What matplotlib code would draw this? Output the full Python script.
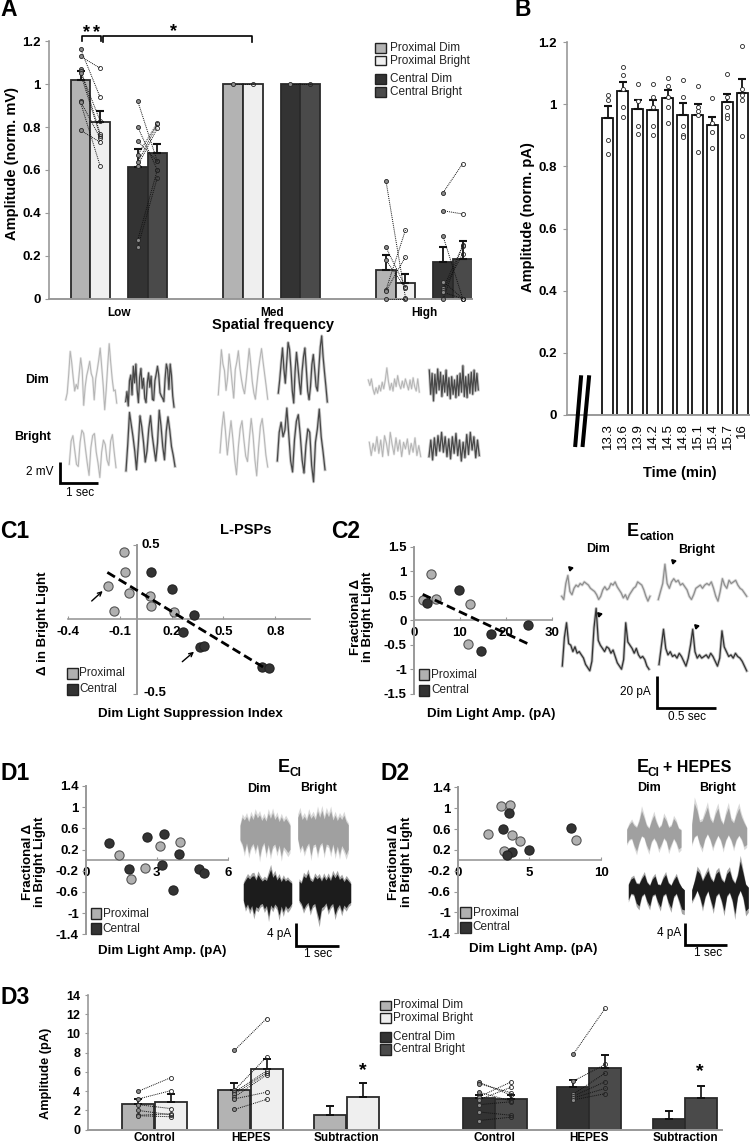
import numpy as np
import matplotlib
matplotlib.use('Agg')
import matplotlib.pyplot as plt
from matplotlib.patches import Rectangle

plt.rcParams['font.family'] = ['Liberation Sans', 'DejaVu Sans']

ANCHO, ALTO = 750, 1145
GRIS_EJE = '#999999'
COL_PD, COL_PB, COL_CD, COL_CB = '#b3b3b3', '#efefef', '#333333', '#4a4a4a'
COL_PROX, COL_CENT = '#b0b0b0', '#333333'

# --- Panel A ---
a_categorias = ['Low', 'Med', 'High']
a_pd = [1.02, 1.0, 0.135]
a_pb = [0.825, 1.0, 0.072]
a_cd = [0.612, 1.0, 0.172]
a_cb = [0.68, 1.0, 0.185]
a_err_pd = [0.04, 0, 0.07]
a_err_pb = [0.05, 0, 0.045]
a_err_cd = [0.085, 0, 0.07]
a_err_cb = [0.04, 0, 0.083]
# pares (tenue, brillante) de cada celula
a_low_prox = [(1.165, 0.94), (1.13, 1.075), (1.07, 0.77), (1.06, 0.83), (1.05, 0.76),
              (0.92, 0.75), (0.915, 0.62), (0.785, 0.73)]
a_low_cent = [(0.92, 0.64), (0.8, 0.6), (0.735, 0.64), (0.67, 0.82), (0.635, 0.815),
              (0.62, 0.795), (0.275, 0.6), (0.24, 0.565)]
a_med_prox = [(1.0, 1.0)]
a_med_cent = [(1.0, 1.0)]
a_high_prox = [(0.55, 0.005), (0.24, 0.055), (0.18, 0.05), (0.04, 0.32), (0.035, 0.195), (0.0, 0.0)]
a_high_cent = [(0.495, 0.63), (0.41, 0.395), (0.29, 0.0), (0.08, 0.0), (0.05, 0.245),
               (0.04, 0.21), (0.03, 0.0), (0.0, 0.25)]

# Trazas panel A (mV)
tr_low_dim_p = [-1.8,-1.2,0.5,2.6,1.6,0.2,-1.0,-0.4,-0.8,0.6,2.0,0.9,-2.3,-0.6,0.4,1.0,1.7,0.6,0.2,-1.8,0.1,0.9,1.8,2.9,1.2,-0.5,-2.7,-0.9,1.3,3.3,1.6,0.1,-1.0,-0.9,-2.1]
tr_low_dim_c = [-1.5,-0.6,-1.9,0.4,0.9,-0.9,1.7,0.2,1.9,-0.4,-1.6,0.7,1.5,-0.3,0.6,-1.2,-1.6,0.2,1.1,-0.2,0.8,-1.3,-1.4,0.4,1.0,1.7,0.9,-0.7,-1.0,-1.2,-1.5,0.6,1.9,1.4,-0.4,1.9,0.9,-1.0,-2.0]
tr_med_dim_p = [-1.8,0.2,2.3,1.0,0.4,-1.4,-0.3,1.9,0.7,-0.8,-2.1,0.5,1.2,2.2,0.6,-0.4,-1.2,-1.7,-0.5,0.9,2.4,1.0,-0.6,-1.6,-2.2,-0.8,0.5,1.5,2.4,1.2,0.1,-1.0,-2.2]
tr_med_dim_c = [-1.8,-0.6,0.9,2.3,0.4,-0.9,1.0,2.8,2.2,0.5,-1.6,-2.7,0.2,1.9,0.6,-0.8,-1.9,0.2,1.5,2.3,0.4,-1.6,-2.4,-1.2,0.8,1.7,0.3,-1.2,-1.6,0.5,2.4,3.4,1.5,0.1,-1.2,-2.6]
tr_high_dim_p = [0.3,-0.2,0.4,-0.5,-1.0,-0.4,-0.9,-0.2,-0.7,0.1,-0.5,0.3,1.4,0.2,-0.6,0.0,-0.7,0.4,-0.3,0.7,-0.1,-0.5,0.2,-0.4,0.4,-0.1,-0.6,0.3,-0.5,0.5,-0.3,-0.7,0.4,-0.8]
tr_high_dim_c = [1.2,-1.0,0.9,-1.6,0.8,-0.9,1.3,-0.6,1.0,-1.2,0.7,-0.8,1.2,-1.1,0.5,-1.4,0.6,-1.0,0.3,-1.3,0.7,-1.1,0.9,-0.8,1.6,-1.2,0.6,-1.3,0.8,-0.9,1.0,-1.0,1.2,-0.7,0.9,-0.6]
tr_low_bri_p = [-1.6,0.5,1.0,-0.3,-1.6,-1.8,0.4,1.5,1.2,-0.2,-1.5,-2.6,-0.1,1.0,1.2,-0.5,-1.5,-2.8,-0.5,0.6,0.2,-1.2,-1.7,0.5,1.1,-0.5,-1.9]
tr_low_bri_c = [-2.8,-0.4,2.5,1.4,0.3,-1.0,-2.7,-0.5,2.2,1.2,-0.2,-2.0,-1.0,1.0,2.2,0.4,-0.8,-1.9,-0.3,2.7,1.3,-0.6,-1.8,0.8,2.1,0.9,-0.6,-1.4,-2.4]
tr_med_bri_p = [-1.0,1.2,2.7,0.9,-1.2,0.4,1.9,0.3,-1.7,-3.0,-0.5,1.2,1.9,0.2,-1.3,-1.8,0.3,2.1,0.6,-1.6,-3.1,-0.6,1.4,2.1,0.6,-1.2,-2.3]
tr_med_bri_c = [-1.6,1.0,1.9,0.6,1.2,3.2,0.8,-1.6,-2.6,0.3,2.0,2.6,0.8,-1.5,-2.7,-0.2,1.3,1.0,-2.0,-3.5,0.1,1.3,3.1,0.6,-0.8,-2.4]
tr_high_bri_p = [0.4,-0.8,0.3,-0.4,0.9,-0.6,0.6,-0.9,1.0,0.3,-0.8,1.3,0.2,-0.7,0.8,-0.4,0.6,-0.9,0.4,-0.2,0.7,-0.7,0.3,-0.5,0.8,-0.8,0.1,-0.9]
tr_high_bri_c = [-0.9,0.6,-1.2,0.8,-0.8,1.0,-0.4,1.3,-0.5,0.9,-0.9,0.7,-1.1,0.9,-0.6,1.2,-0.8,0.6,-1.3,0.4,-1.0,1.1,-0.7,1.3,-0.3,0.9,-1.0,0.6,-0.8]

# --- Panel B ---
b_tiempos = ['13.3', '13.6', '13.9', '14.2', '14.5', '14.8', '15.1', '15.4', '15.7', '16']
b_medias = [0.955, 1.043, 0.985, 0.983, 1.02, 0.967, 0.966, 0.934, 1.008, 1.036]
b_err = [0.04, 0.03, 0.03, 0.03, 0.025, 0.037, 0.035, 0.025, 0.025, 0.047]
b_puntos = [[1.03, 1.015, 0.885, 0.84],
            [1.12, 1.095, 1.05, 0.99, 0.96],
            [1.065, 1.01, 0.93, 0.905],
            [1.065, 1.025, 0.99, 0.93, 0.9],
            [1.085, 1.06, 1.025, 0.99, 0.94],
            [1.08, 1.025, 0.93, 0.9, 0.895],
            [1.06, 0.99, 0.98, 0.965, 0.845],
            [1.02, 0.94, 0.91, 0.86],
            [1.098, 1.025, 0.99, 0.965, 0.955],
            [1.187, 1.05, 1.03, 1.015, 0.897]]

# --- Panel C1 ---
c1_px = [-0.077, -0.069, -0.169, -0.048, 0.077, 0.081, -0.131, 0.215]
c1_py = [0.455, 0.316, 0.226, 0.179, 0.155, 0.092, 0.058, 0.052]
c1_cx = [0.081, 0.2, 0.331, 0.267, 0.363, 0.387, 0.723, 0.762]
c1_cy = [0.318, 0.206, 0.027, -0.083, -0.186, -0.177, -0.321, -0.327]
c1_tx = [-0.171, 0.748]
c1_ty = [0.316, -0.334]

# --- Panel C2 ---
c2_px = [3.7, 1.96, 4.8, 12.2, 11.9]
c2_py = [0.95, 0.42, 0.43, 0.33, -0.48]
c2_cx = [2.9, 9.86, 16.9, 14.6, 24.9]
c2_cy = [0.35, 0.62, -0.28, -0.62, -0.1]
c2_tx = [1.96, 24.9]
c2_ty = [0.53, -0.48]
# trazas (pA)
c2_dim_p = [-6,-8,2,7,-3,-5,-1,1,0,2,1,3,2,1,-1,-2,-3,-5,-8,-6,-2,0,-2,-1,2,1,3,0,-2,-4,-7,-5,-8,-5,-3,-1,0,3,2,1,-2,-6,-9,-6]
c2_bri_p = [-8,-3,2,14,2,-1,3,5,3,4,1,2,0,-2,-6,-8,-5,-1,0,1,-1,1,2,1,3,-1,-6,-9,-3,5,1,-1,4,2,3,4,1,-1,-2,-4,-6]
c2_dim_c = [-10,8,17,4,3,-1,2,-2,-1,-3,-5,-9,-11,-13,-7,14,26,6,3,1,-1,2,1,-2,0,-4,-8,-10,-12,-6,17,5,3,1,-2,1,-3,-5,-4,-6,-10,-12]
c2_bri_c = [-7,4,15,3,-1,1,-2,-1,-3,0,-2,-5,-8,-3,5,15,1,-3,-1,-3,-2,-1,-3,0,-2,-5,-8,-3,14,4,1,-2,-1,-3,0,-2,-3,-5,-8,-11]

# --- Panel D1 ---
d1_px = [1.39, 3.16, 4.0, 1.92, 2.51]
d1_py = [0.105, 0.27, 0.34, -0.35, -0.155]
d1_cx = [0.97, 2.59, 3.32, 3.96, 1.85, 3.24, 4.79, 5.01, 3.68]
d1_cy = [0.32, 0.44, 0.5, 0.115, -0.16, -0.09, -0.17, -0.25, -0.57]
d1_dim_p_sup = [1.5,3,2.5,3.2,2.2,3.4,2.6,3.8,2.9,3.5,2.4,3.1,2.3,3.8,2.8,3.9,2.6,3.3,2.2,3.1,2.2,2.8,2.2,1.5]
d1_dim_p_inf = [-1.2,-2,-3.5,-1.8,-3.8,-2.5,-1.9,-3.2,-2,-4.4,-2.5,-1.7,-3.8,-2.1,-4,-2.4,-2.0,-3.5,-2.2,-4.3,-2.5,-3,-3.6,-3]
d1_bri_p_sup = [3,4,2.6,3.2,2.4,3.8,2.8,3.4,2.6,4.2,3,4.3,2.7,4,3.1,4.2,2.5,3.4,2.4,3.2,2.6,3.4,2.2,1.6]
d1_bri_p_inf = [-1,-3,-2.2,-3.5,-2.4,-1.8,-4.2,-2.2,-2,-3.8,-2.2,-1.7,-3.8,-2,-2.2,-3.6,-2.0,-3.9,-2.4,-4,-2.3,-3,-4,-3]
d1_dim_c_sup = [1.5,2.2,2.8,2.4,2.9,3,2.2,3.2,2.5,2,2.4,2.1,3.2,4.2,2.7,3.3,2.2,2.8,1.9,2.6,2,2.3,1.9,1.6]
d1_dim_c_inf = [-1.6,-3,-2.3,-3.4,-2.6,-4.2,-2.8,-3.1,-2.4,-2.2,-3.2,-2.6,-4.6,-2.5,-3.1,-2.3,-2.8,-4.4,-2.7,-3.8,-2.6,-3.2,-2.8,-2.2]
d1_bri_c_sup = [2,1.6,3,2.6,3.5,2.2,1.9,2.9,2.4,2.8,2,2.9,2.2,2.9,2.1,3.3,2.6,3.3,2.3,2.7,1.9,2.5,2,1.5]
d1_bri_c_inf = [-1.6,-2.2,-3.3,-2.5,-2,-3.6,-2.5,-2.2,-3.9,-5.4,-3,-2.7,-2.1,-3.5,-2.6,-2.2,-4.3,-3,-2.4,-3.7,-2.5,-3,-2.3,-2]

# --- Panel D2 ---
d2_px = [3.02, 3.67, 2.09, 3.78, 4.34, 3.25, 8.24]
d2_py = [1.05, 1.055, 0.5, 0.49, 0.365, 0.185, 0.395]
d2_cx = [3.57, 3.13, 7.91, 4.94, 3.76, 3.43]
d2_cy = [0.91, 0.6, 0.61, 0.19, 0.15, 0.11]
d2_dim_p_sup = [0.8,1.8,2.4,1.6,1.2,2.5,4.6,3.2,1.6,1.0,2.5,3.7,2.2,1.1,1.6,3.4,2.6,1.2,1.5,3.0,2.3,1.0,0.7]
d2_dim_p_inf = [-2,-1.2,-1,-2.5,-3.6,-1.8,-0.5,-0.8,-2.4,-3.5,-1.6,-0.9,-1.7,-3.2,-2.2,-0.9,-1.5,-3.4,-2.2,-1,-1.8,-3.2,-2.8]
d2_bri_p_sup = [1.5,5.8,4.4,2,2.2,3.6,5,2.6,1.8,3.6,4.8,2.4,1.5,3.5,4.9,2.4,1.8,3.5,4.8,3.0,1.8,0.8]
d2_bri_p_inf = [-2.4,-1,-0.6,-2.4,-3.4,-1.4,-0.4,-1.5,-3.2,-1.8,-0.7,-1.6,-3.4,-1.6,-0.6,-1.6,-3.2,-1.5,-0.7,-1.5,-3,-2.6]
d2_dim_c_sup = [0.8,1.9,2.2,1.0,0.9,2,2.8,1.2,0.6,1.9,2.5,0.8,0.7,2,2.8,1.1,0.6,1.7,2.5,1.1,0.2,-0.3]
d2_dim_c_inf = [-2.3,-1,-1.2,-3,-3.6,-1.5,-1,-2.6,-3.6,-1.4,-1.1,-2.7,-3.8,-1.4,-1,-2.8,-4,-1.6,-1,-2.5,-4.2,-4.4]
d2_bri_c_sup = [-0.3,1.5,3.7,3,1.5,2.6,3.6,2,1.3,3,3.5,1.8,1.2,3,3.6,1.8,1,2.6,5.5,3.2,0.8,0.2]
d2_bri_c_inf = [-2.5,-1.6,-0.4,-1.8,-3.8,-1.6,-0.5,-2.4,-4.2,-1.5,-0.9,-2.4,-4.6,-1.5,-0.8,-2.3,-5.2,-1.6,-0.4,-1.8,-4.6,-4]

# --- Panel D3 ---
d3_categorias = ['Control', 'HEPES', 'Subtraction', 'Control', 'HEPES', 'Subtraction']
d3_dim = [2.65, 4.1, 1.5, 3.25, 4.45, 1.15]
d3_bri = [2.9, 6.35, 3.45, 3.15, 6.45, 3.3]
d3_err_dim = [0.55, 0.75, 0.95, 0.4, 0.7, 0.8]
d3_err_bri = [0.8, 1.0, 1.4, 0.5, 1.3, 1.2]
d3_ctrl_prox = [(4.0, 5.4), (3.2, 4.05), (2.6, 2.2), (2.0, 1.55), (1.5, 1.65), (1.45, 1.35)]
d3_hep_prox = [(8.25, 11.55), (4.1, 7.55), (3.9, 6.1), (3.7, 5.9), (3.4, 5.7), (3.2, 3.9), (2.1, 3.15)]
d3_ctrl_cent = [(4.95, 3.6), (4.8, 3.85), (3.9, 3.0), (3.4, 4.95), (3.1, 4.4), (2.6, 2.9), (1.85, 1.5), (0.95, 1.3)]
d3_hep_cent = [(7.85, 12.65), (5.05, 6.8), (3.7, 5.9), (3.5, 5.0), (3.3, 4.3), (3.1, 3.75)]


def ejes_px(fig, x0, y0, x1, y1):
    # crea unos ejes a partir de coordenadas en pixeles de la imagen
    return fig.add_axes([x0 / ANCHO, 1 - y1 / ALTO, (x1 - x0) / ANCHO, (y1 - y0) / ALTO])


def estilo_barras(ax):
    ax.spines['top'].set_visible(False)
    ax.spines['right'].set_visible(False)
    ax.spines['left'].set_color(GRIS_EJE)
    ax.spines['bottom'].set_color(GRIS_EJE)
    ax.spines['left'].set_linewidth(1.2)
    ax.spines['bottom'].set_linewidth(1.4)
    ax.patch.set_alpha(0)


def pares(ax, x1, x2, datos):
    # lineas punteadas que unen la misma celula en las dos condiciones
    for a, b in datos:
        ax.plot([x1, x2], [a, b], color='#111111', ls=(0, (1, 1)), lw=0.7, zorder=4, clip_on=False)
        ax.plot(x1, a, 'o', ms=2.9, mfc='#8a8a8a', mec='#222222', mew=0.6, zorder=5, clip_on=False)
        ax.plot(x2, b, 'o', ms=2.9, mfc='none', mec='#222222', mew=0.6, zorder=5, clip_on=False)


def dispersion(ax, px, py, cx, cy):
    ax.scatter(px, py, s=44, c=COL_PROX, edgecolors='#555555', linewidths=0.8, zorder=3, clip_on=False)
    ax.scatter(cx, cy, s=44, c=COL_CENT, edgecolors='#222222', linewidths=0.8, zorder=3, clip_on=False)


def ejes_cruzados(ax, xt, yt, xlab, ylab, fs=9.5):
    for lado in ['top', 'right']:
        ax.spines[lado].set_visible(False)
    ax.spines['left'].set_position(('data', 0))
    ax.spines['bottom'].set_position(('data', 0))
    ax.spines['left'].set_color(GRIS_EJE)
    ax.spines['bottom'].set_color(GRIS_EJE)
    ax.spines['left'].set_linewidth(1.4)
    ax.spines['bottom'].set_linewidth(1.2)
    ax.set_xticks(xt, xlab)
    ax.set_yticks(yt, ylab)
    ax.tick_params(axis='x', length=2.5, direction='in', color=GRIS_EJE, labelsize=fs, pad=5)
    ax.tick_params(axis='y', length=3, direction='out', color=GRIS_EJE, labelsize=fs, pad=2)
    for t in ax.get_xticklabels() + ax.get_yticklabels():
        t.set_fontweight('bold')
    ax.patch.set_alpha(0)


def traza(ax, vals, x0, x1, y0, escala, color, lw=0.7):
    xs = np.linspace(x0, x1, len(vals))
    ys = y0 - np.array(vals) * escala
    # halo claro debajo para que se parezca a una traza con ruido
    ax.plot(xs, ys, color=color, lw=lw * 2.4, alpha=0.3, solid_joinstyle='round')
    ax.plot(xs, ys, color=color, lw=lw, solid_joinstyle='round')


def banda(ax, sup, inf, x0, x1, y0, escala, color):
    xs = np.linspace(x0, x1, len(sup))
    s, i = np.array(sup), np.array(inf)
    ax.fill_between(xs, y0 - s * escala, y0 - i * escala, color=color, alpha=0.4, lw=0)
    ax.fill_between(xs, y0 - s * 0.82 * escala, y0 - i * 0.82 * escala, color=color, lw=0)


def leyenda(ov, filas, x0, x1, xt, fs=8.5):
    for (y0, y1, col, txt) in filas:
        ov.add_patch(Rectangle((x0, y0), x1 - x0, y1 - y0, fc=col, ec='#222222', lw=1.0))
        ov.text(xt, (y0 + y1) / 2, txt, fontsize=fs, va='center', ha='left', color='#222222')


def escala_barra(ov, x, y0, y1, x1):
    ov.plot([x, x, x1], [y0, y1, y1], color='black', lw=2, solid_joinstyle='miter', solid_capstyle='butt')


fig = plt.figure(figsize=(7.5, 11.45), dpi=100)
fig.patch.set_facecolor('white')

# ---------- Panel A ----------
ax = ejes_px(fig, 49, 41.3, 472, 298.7)
estilo_barras(ax)
ax.set_xlim((49 - 119) / 152.7, (472 - 119) / 152.7)
ax.set_ylim(0, 1.2)
pos = np.arange(3)
offs = [-0.252, -0.124, 0.123, 0.251]
series = [(a_pd, a_err_pd, COL_PD), (a_pb, a_err_pb, COL_PB), (a_cd, a_err_cd, COL_CD), (a_cb, a_err_cb, COL_CB)]
for off, (v, e, col) in zip(offs, series):
    ax.bar(pos + off, v, 0.128, color=col, edgecolor='#2a2a2a', lw=1.3, zorder=2)
    ax.errorbar(pos[[0, 2]] + off, np.array(v)[[0, 2]], yerr=[[0, 0], np.array(e)[[0, 2]]],
                fmt='none', ecolor='#111111', elinewidth=1.3, capsize=3, capthick=1.5, zorder=3)
pares(ax, 0 + offs[0], 0 + offs[1], a_low_prox)
pares(ax, 0 + offs[2], 0 + offs[3], a_low_cent)
pares(ax, 1 + offs[0], 1 + offs[1], a_med_prox)
pares(ax, 1 + offs[2], 1 + offs[3], a_med_cent)
pares(ax, 2 + offs[0], 2 + offs[1], a_high_prox)
pares(ax, 2 + offs[2], 2 + offs[3], a_high_cent)
ax.set_yticks([0, 0.2, 0.4, 0.6, 0.8, 1, 1.2], ['0', '0.2', '0.4', '0.6', '0.8', '1', '1.2'])
ax.set_xticks(pos, a_categorias)
ax.tick_params(axis='x', length=0, labelsize=8.5, pad=6)
ax.tick_params(axis='y', length=3, color=GRIS_EJE, labelsize=9.5, pad=3)
for t in ax.get_xticklabels() + ax.get_yticklabels():
    t.set_fontweight('bold')

# ---------- Panel B ----------
ax = ejes_px(fig, 566.7, 42.3, 750, 414.7)
estilo_barras(ax)
ax.set_xlim((566.7 - 607.7) / 14.97, (750 - 607.7) / 14.97)
ax.set_ylim(0, 1.2)
pos = np.arange(len(b_tiempos))
ax.bar(pos, b_medias, 0.76, color='white', edgecolor='#111111', lw=1.3, zorder=2)
ax.errorbar(pos, b_medias, yerr=[np.zeros(len(b_err)), b_err], fmt='none', ecolor='#111111',
            elinewidth=1.3, capsize=2.8, capthick=1.5, zorder=3)
for i, pts in enumerate(b_puntos):
    ax.plot([i] * len(pts), pts, 'o', ms=2.9, mfc='white', mec='#222222', mew=0.6, ls='none', zorder=5)
ax.set_yticks([0, 0.2, 0.4, 0.6, 0.8, 1, 1.2], ['0', '0.2', '0.4', '0.6', '0.8', '1', '1.2'])
ax.set_xticks(pos, b_tiempos, rotation=90)
ax.tick_params(axis='x', length=0, labelsize=9.5, pad=6)
ax.tick_params(axis='y', length=3, color=GRIS_EJE, labelsize=9.5, pad=4)
for t in ax.get_yticklabels():
    t.set_fontweight('bold')

# ---------- Panel C1 ----------
ax = ejes_px(fig, 67.7, 545, 310, 693.7)
ax.set_xlim(-0.4, 1.0)
ax.set_ylim(-0.5, 0.5)
ejes_cruzados(ax, [-0.4, -0.1, 0.2, 0.5, 0.8], [-0.5, 0.5], ['-0.4', '-0.1', '0.2', '0.5', '0.8'], ['', ''])
dispersion(ax, c1_px, c1_py, c1_cx, c1_cy)
ax.plot(c1_tx, c1_ty, color='black', ls=(0, (3.2, 1.6)), lw=2, zorder=4)

# ---------- Panel C2 ----------
ax = ejes_px(fig, 413.7, 546.7, 551.7, 694)
ax.set_xlim(0, 30)
ax.set_ylim(-1.5, 1.5)
ejes_cruzados(ax, [0, 10, 20, 30], [-1.5, -1, -0.5, 0, 0.5, 1, 1.5],
              ['0', '10', '20', '30'], ['-1.5', '-1', '-0.5', '0', '0.5', '1', '1.5'])
dispersion(ax, c2_px, c2_py, c2_cx, c2_cy)
ax.plot(c2_tx, c2_ty, color='black', ls=(0, (3.2, 1.6)), lw=2, zorder=4)

# ---------- Panel D1 ----------
etiq_y = ['-1.4', '-1', '-0.6', '-0.2', '0.2', '0.6', '1', '1.4']
marcas_y = [-1.4, -1, -0.6, -0.2, 0.2, 0.6, 1, 1.4]
ax = ejes_px(fig, 85.7, 786, 227.7, 934.3)
ax.set_xlim(0, 6)
ax.set_ylim(-1.4, 1.4)
ejes_cruzados(ax, [0, 3, 6], marcas_y, ['0', '3', '6'], etiq_y)
dispersion(ax, d1_px, d1_py, d1_cx, d1_cy)

# ---------- Panel D2 ----------
ax = ejes_px(fig, 457.7, 787.3, 601.3, 933.3)
ax.set_xlim(0, 10)
ax.set_ylim(-1.4, 1.4)
ejes_cruzados(ax, [0, 5, 10], marcas_y, ['0', '5', '10'], etiq_y)
dispersion(ax, d2_px, d2_py, d2_cx, d2_cy)

# ---------- Panel D3 ----------
ax = ejes_px(fig, 88, 995, 722, 1129.7)
estilo_barras(ax)
ax.set_xlim((88 - 154.5) / 96, (722 - 154.5) / 96)
ax.set_ylim(0, 14)
pos = np.array([0, 1, 2, 3.544, 4.53, 5.53])
cols_dim = [COL_PD] * 3 + [COL_CD] * 3
cols_bri = [COL_PB] * 3 + [COL_CB] * 3
ax.bar(pos - 0.167, d3_dim, 0.333, color=cols_dim, edgecolor='#2a2a2a', lw=1.3, zorder=2)
ax.bar(pos + 0.167, d3_bri, 0.333, color=cols_bri, edgecolor='#2a2a2a', lw=1.3, zorder=2)
ax.errorbar(pos - 0.167, d3_dim, yerr=[np.zeros(6), d3_err_dim], fmt='none', ecolor='#111111',
            elinewidth=1.2, capsize=2.8, capthick=1.4, zorder=3)
ax.errorbar(pos + 0.167, d3_bri, yerr=[np.zeros(6), d3_err_bri], fmt='none', ecolor='#111111',
            elinewidth=1.2, capsize=2.8, capthick=1.4, zorder=3)
pares(ax, pos[0] - 0.167, pos[0] + 0.167, d3_ctrl_prox)
pares(ax, pos[1] - 0.167, pos[1] + 0.167, d3_hep_prox)
pares(ax, pos[3] - 0.167, pos[3] + 0.167, d3_ctrl_cent)
pares(ax, pos[4] - 0.167, pos[4] + 0.167, d3_hep_cent)
ax.set_yticks(range(0, 15, 2))
ax.set_xticks(pos, d3_categorias)
ax.tick_params(axis='x', length=0, labelsize=8.5, pad=1.5)
ax.tick_params(axis='y', length=2.5, color=GRIS_EJE, labelsize=9, pad=3)
for t in ax.get_xticklabels() + ax.get_yticklabels():
    t.set_fontweight('bold')

# ---------- Capa superior: textos, leyendas, trazas y barras de escala ----------
ov = fig.add_axes([0, 0, 1, 1], zorder=10)
ov.set_xlim(0, ANCHO)
ov.set_ylim(ALTO, 0)
ov.axis('off')
ov.patch.set_alpha(0)

for txt, x, y in [('A', 0, 10), ('B', 514, 10), ('C1', 0, 532), ('C2', 331, 532),
                  ('D1', 0, 773), ('D2', 381, 773), ('D3', 0, 998)]:
    ov.text(x, y, txt, fontsize=16.5, fontweight='bold', va='center', ha='left')


def negrita(x, y, txt, fs=9.5, rot=0, ha='center', **kw):
    ov.text(x, y, txt, fontsize=fs, fontweight='bold', ha=ha, va='center', rotation=rot,
            linespacing=1.05, **kw)


negrita(12, 163, 'Amplitude (norm. mV)', 10.5, 90)
negrita(273, 325, 'Spatial frequency', 10.5)
negrita(527.7, 217, 'Amplitude (norm. pA)', 10.5, 90)
negrita(680, 473, 'Time (min)', 10.5)
negrita(245.7, 530, 'L-PSPs', 10.5)
negrita(42.7, 623, 'Δ in Bright Light', 9.5, 90)
negrita(190.7, 714, 'Dim Light Suppression Index', 9.6)
negrita(362, 617, 'Fractional Δ\nin Bright Light', 9.5, 90)
negrita(490.7, 714, 'Dim Light Amp. (pA)', 9.6)
negrita(34, 862, 'Fractional Δ\nin Bright Light', 9.5, 90)
negrita(162, 951, 'Dim Light Amp. (pA)', 9.6)
negrita(400.7, 862, 'Fractional Δ\nin Bright Light', 9.5, 90)
negrita(532.7, 949, 'Dim Light Amp. (pA)', 9.6)
negrita(46.4, 1073, 'Amplitude (pA)', 9.2, 90)

# etiquetas del eje y de C1 (van a la derecha del eje)
negrita(151, 544.5, '0.5', 9.5)
negrita(155, 692.5, '-0.5', 9.5)

# significancia panel A
ov.plot([81.7, 81.7, 100.7, 100.7], [40.7, 36, 36, 40.7], color='black', lw=1.2)
ov.plot([103.3, 103.3, 251.7, 251.7], [41.7, 36, 36, 41.7], color='black', lw=1.2)
negrita(86.7, 33, '*', 13)
negrita(96.7, 33, '*', 13)
negrita(174, 32, '*', 13)
negrita(363, 1071, '*', 14)
negrita(700, 1072, '*', 14)

# corte del eje en B
ov.plot([575.3, 581], [445, 377.3], color='black', lw=2.9)
ov.plot([582.7, 589], [445, 377.3], color='black', lw=2.9)

# leyendas
leyenda(ov, [(43, 53.3, COL_PD, 'Proximal Dim'), (56, 65.3, COL_PB, 'Proximal Bright'),
             (74, 84, COL_CD, 'Central Dim'), (86.7, 97, COL_CB, 'Central Bright')], 374.7, 385.7, 389.5)
leyenda(ov, [(668, 679, COL_PROX, 'Proximal'), (684, 694.7, COL_CENT, 'Central')], 67, 77.7, 79)
leyenda(ov, [(669.3, 680, COL_PROX, 'Proximal'), (685, 695.7, COL_CENT, 'Central')], 419, 429.3, 431)
leyenda(ov, [(908.3, 919, COL_PROX, 'Proximal'), (923, 934, COL_CENT, 'Central')], 90.7, 101, 102.7)
leyenda(ov, [(907, 918, COL_PROX, 'Proximal'), (922, 933, COL_CENT, 'Central')], 460, 471, 472.5)
leyenda(ov, [(1000.7, 1010, COL_PD, 'Proximal Dim'), (1013, 1022.7, COL_PB, 'Proximal Bright'),
             (1031.7, 1042, COL_CD, 'Central Dim'), (1044, 1054.7, COL_CB, 'Central Bright')], 380, 391, 393, 8.5)

# flechas C1
for ini, fin in [((91.7, 601), (102.7, 591)), ((182.3, 661.7), (194, 651.7))]:
    ov.annotate('', xy=fin, xytext=ini,
                arrowprops=dict(arrowstyle='->', color='black', lw=1.0, mutation_scale=7, shrinkA=0, shrinkB=0))

# trazas panel A
GRIS_T, OSC_T = '#b4b4b4', '#484848'
PX_MV = 11
trazas_a = [(tr_low_dim_p, 65.7, 116.7, 380, GRIS_T), (tr_low_dim_c, 125.7, 174, 385, OSC_T),
            (tr_med_dim_p, 218.3, 267.7, 375, GRIS_T), (tr_med_dim_c, 278.3, 327.3, 373.3, OSC_T),
            (tr_high_dim_p, 368.3, 419.3, 383.3, GRIS_T), (tr_high_dim_c, 429.3, 478.3, 383.3, OSC_T),
            (tr_low_bri_p, 69.3, 116, 446.7, GRIS_T), (tr_low_bri_c, 126, 175, 440, OSC_T),
            (tr_med_bri_p, 220, 267.7, 441.7, GRIS_T), (tr_med_bri_c, 277.3, 325, 443.3, OSC_T),
            (tr_high_bri_p, 369.3, 420.7, 446.7, GRIS_T), (tr_high_bri_c, 429, 479.3, 446.7, OSC_T)]
for vals, x0, x1, y0, col in trazas_a:
    traza(ov, vals, x0, x1, y0, PX_MV, col, 0.7 if col == GRIS_T else 0.9)
negrita(36.7, 380, 'Dim', 9)
negrita(33, 437, 'Bright', 9)
escala_barra(ov, 60, 461.7, 482.7, 97.7)
ov.text(54, 472, '2 mV', fontsize=8.5, ha='right', va='center')
ov.text(80, 493, '1 sec', fontsize=8.5, ha='center', va='center')

# trazas C2
PX_PA = 1.6
traza(ov, c2_dim_p, 561.7, 650, 586.7, PX_PA, '#8f8f8f', 0.9)
traza(ov, c2_bri_p, 658.3, 746.7, 586.7, PX_PA, '#8f8f8f', 0.9)
traza(ov, c2_dim_c, 562.3, 649, 650, PX_PA, '#333333', 0.9)
traza(ov, c2_bri_c, 659, 746.7, 653.3, PX_PA, '#333333', 0.9)
for mx, my in [(570, 567.7), (672.7, 561), (599, 614), (695.7, 625.7)]:
    ov.plot(mx, my, marker=(3, 0, 165), ms=3.6, color='black', ls='none')
negrita(633, 531, 'E', 13)
negrita(639, 537, 'cation', 8.5, ha='left')
negrita(597.7, 549, 'Dim', 9)
negrita(696.7, 549.5, 'Bright', 9)
escala_barra(ov, 656.7, 675.7, 708.3, 715.7)
ov.text(651, 691.7, '20 pA', fontsize=8.5, ha='right', va='center')
ov.text(686.7, 716.7, '0.5 sec', fontsize=8.5, ha='center', va='center')

# bandas D1
PX_D1, PX_D2 = 6.5, 6
GRIS_B, NEGRO_B = '#a0a0a0', '#1c1c1c'
banda(ov, d1_dim_p_sup, d1_dim_p_inf, 240, 290, 833.3, PX_D1, GRIS_B)
banda(ov, d1_bri_p_sup, d1_bri_p_inf, 297.7, 348.3, 833.3, PX_D1, GRIS_B)
banda(ov, d1_dim_c_sup, d1_dim_c_inf, 243.3, 291.7, 891.7, PX_D1, NEGRO_B)
banda(ov, d1_bri_c_sup, d1_bri_c_inf, 299, 350.7, 891.7, PX_D1, NEGRO_B)
negrita(283.5, 768, 'E', 13)
negrita(290, 773.5, 'Cl', 8.5, ha='left')
negrita(259, 789, 'Dim', 9)
negrita(319, 788, 'Bright', 9)
escala_barra(ov, 296, 923, 945.7, 339)
ov.text(291.7, 934, '4 pA', fontsize=8.5, ha='right', va='center')
ov.text(318, 954, '1 sec', fontsize=8.5, ha='center', va='center')

# bandas D2
banda(ov, d2_dim_p_sup, d2_dim_p_inf, 626.7, 681, 833.3, PX_D2, GRIS_B)
banda(ov, d2_bri_p_sup, d2_bri_p_inf, 691.7, 746.7, 831.7, PX_D2, GRIS_B)
banda(ov, d2_dim_c_sup, d2_dim_c_inf, 628.3, 684.3, 888.3, PX_D2, NEGRO_B)
banda(ov, d2_bri_c_sup, d2_bri_c_inf, 691.7, 748.3, 888.3, PX_D2, NEGRO_B)
negrita(642.5, 768, 'E', 13)
negrita(648, 773.5, 'Cl', 8.5, ha='left')
negrita(663, 768, '+ HEPES', 11.5, ha='left')
negrita(649, 788.3, 'Dim', 9)
negrita(718, 788.3, 'Bright', 9)
escala_barra(ov, 685, 923.3, 945, 727.3)
ov.text(681, 933, '4 pA', fontsize=8.5, ha='right', va='center')
ov.text(708, 953, '1 sec', fontsize=8.5, ha='center', va='center')

fig.savefig('out.png', dpi=100)
